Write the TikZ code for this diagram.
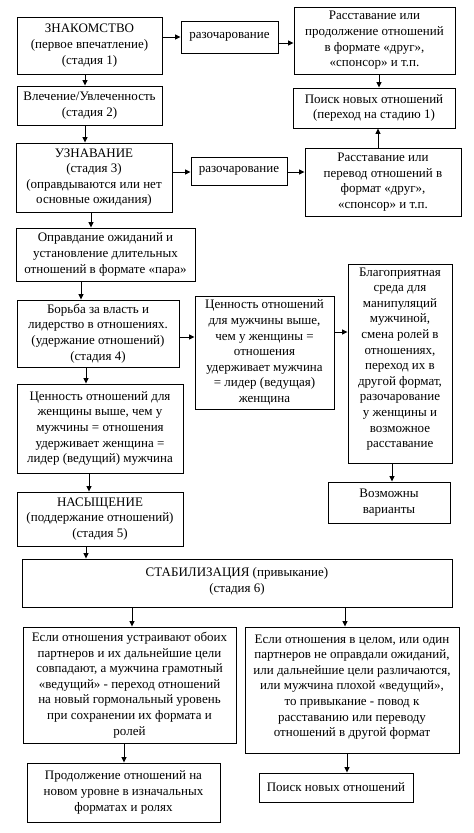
\documentclass[tikz,border=0pt]{standalone}
\usepackage{fontspec}
\setmainfont{Liberation Serif}
\usetikzlibrary{arrows.meta}
\tikzset{
  box/.style={draw=black, line width=0.9pt, fill=white, align=center, inner sep=1pt,
    font=\fontsize{13}{15.6}\selectfont},
  arr/.style={line width=0.9pt, -{Triangle[length=5.5pt,width=5pt]}},
}
\newcommand{\bx}[6]{\node[box, minimum width=#4pt, minimum height=#5pt] (#1) at (#2,#3) {#6};}
\begin{document}
\begin{tikzpicture}[x=1pt,y=-1pt]
\useasboundingbox[fill=white] (0,0) rectangle (474,833);
\bx{zn}{89.5}{45.5}{145}{57}{ЗНАКОМСТВО\\(первое впечатление)\\(стадия 1)}
\bx{raz1}{229.5}{37}{97}{32}{разочарование}
\bx{ras1}{374.5}{40.5}{161}{67}{Расставание или\\продолжение отношений\\в формате «друг»,\\«спонсор» и т.п.}
\bx{vl}{89.5}{105.5}{145}{39}{Влечение/Увлеченность\\(стадия 2)}
\bx{poisk1}{374}{108}{162}{40}{Поиск новых отношений\\(переход на стадию 1)}
\bx{uzn}{94}{177.5}{156}{69}{УЗНАВАНИЕ\\(стадия 3)\\(оправдываются или нет\\основные ожидания)}
\bx{raz2}{239}{171}{96}{28}{разочарование}
\bx{ras2}{383}{182}{156}{68}{Расставание или\\перевод отношений в\\формат «друг»,\\«спонсор» и т.п.}
\bx{opr}{105.5}{254.5}{179}{53}{Оправдание ожиданий и\\установление длительных\\отношений в формате «пара»}
\bx{blag}{400}{363.5}{104}{199}{Благоприятная\\среда для\\манипуляций\\мужчиной,\\смена ролей в\\отношениях,\\переход их в\\другой формат,\\разочарование\\у женщины и\\возможное\\расставание\\[-4pt]}
\bx{bor}{98}{333.5}{162}{67}{Борьба за власть и\\лидерство в отношениях.\\(удержание отношений)\\(стадия 4)}
\bx{cm}{264.5}{352.5}{139}{113}{Ценность отношений\\для мужчины выше,\\чем у женщины =\\отношения\\удерживает мужчина\\= лидер (ведущая)\\женщина}
\bx{cw}{100}{428.5}{166}{89}{Ценность отношений для\\женщины выше, чем у\\мужчины = отношения\\удерживает женщина =\\лидер (ведущий) мужчина}
\bx{voz}{389}{502.5}{122}{41}{Возможны\\варианты}
\bx{nas}{100}{519}{166}{54}{НАСЫЩЕНИЕ\\(поддержание отношений)\\(стадия 5)}
\bx{stab}{237}{583}{430}{48}{СТАБИЛИЗАЦИЯ (привыкание)\\(стадия 6)\\[-9pt]}
\bx{el}{129.5}{685}{213}{116}{Если отношения устраивают обоих\\партнеров и их дальнейшие цели\\совпадают, а мужчина грамотный\\«ведущий» - переход отношений\\на новый гормональный уровень\\при сохранении их формата и\\ролей}
\bx{er}{352}{690}{214}{126}{Если отношения в целом, или один\\партнеров не оправдали ожиданий,\\или дальнейшие цели различаются,\\или мужчина плохой «ведущий»,\\то привыкание - повод к\\расставанию или переводу\\отношений в другой формат\\[-7pt]}
\bx{prod}{123.5}{792.5}{193}{59}{Продолжение отношений на\\новом уровне в изначальных\\форматах и ролях}
\bx{poisk2}{336}{787.5}{154}{29}{Поиск новых отношений}
% connectors
\draw[arr] (zn.east |- 0,37) -- (raz1.west |- 0,37);
\draw[arr] (raz1.east |- 0,43) -- (ras1.west |- 0,43);
\draw[arr] (zn.south -| 85,0) -- (vl.north -| 85,0);
\draw[arr] (vl.south -| 85,0) -- (uzn.north -| 85,0);
\draw[arr] (ras1.south -| 379,0) -- (poisk1.north -| 379,0);
\draw[arr] (ras2.north -| 378,0) -- (poisk1.south -| 378,0);
\draw[arr] (uzn.east |- 0,172) -- (raz2.west |- 0,172);
\draw[arr] (raz2.east |- 0,172) -- (ras2.west |- 0,172);
\draw[arr] (uzn.south -| 91,0) -- (opr.north -| 91,0);
\draw[arr] (opr.south -| 81,0) -- (bor.north -| 81,0);
\draw[arr] (bor.east |- 0,337) -- (cm.west |- 0,337);
\draw[arr] (cm.east |- 0,332) -- (blag.west |- 0,332);
\draw[arr] (bor.south -| 86,0) -- (cw.north -| 86,0);
\draw[arr] (blag.south -| 392,0) -- (voz.north -| 392,0);
\draw[arr] (cw.south -| 89,0) -- (nas.north -| 89,0);
\draw[arr] (nas.south -| 86,0) -- (stab.north -| 86,0);
\draw[arr] (stab.south -| 132,0) -- (el.north -| 132,0);
\draw[arr] (stab.south -| 345,0) -- (er.north -| 345,0);
\draw[arr] (el.south -| 124,0) -- (prod.north -| 124,0);
\draw[arr] (er.south -| 347,0) -- (poisk2.north -| 347,0);
\end{tikzpicture}
\end{document}
